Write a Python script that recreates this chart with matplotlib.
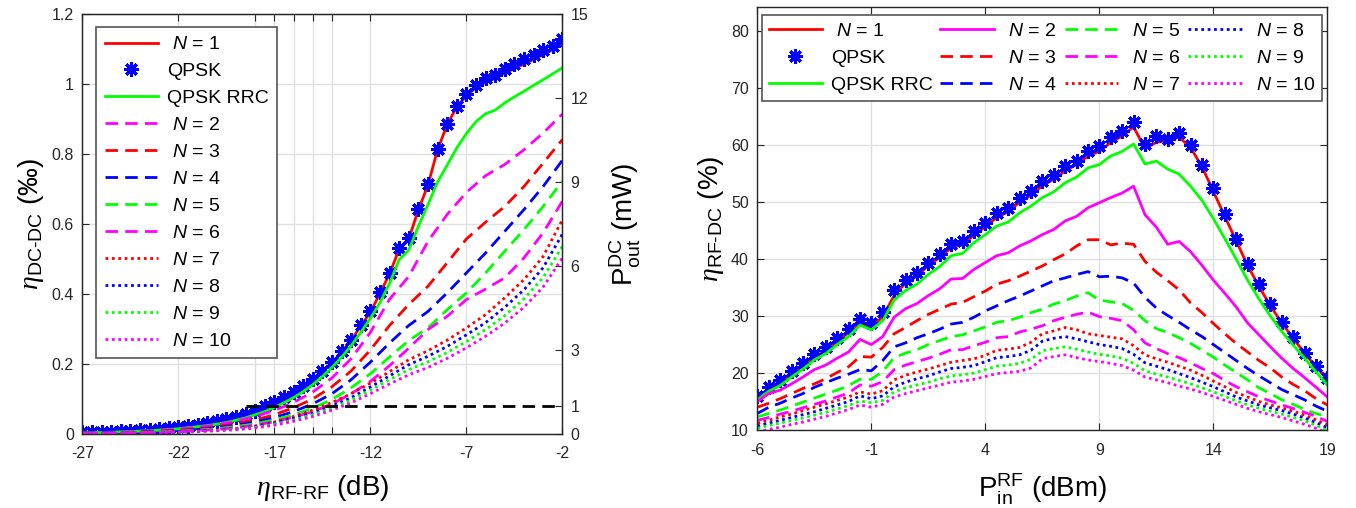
import numpy as np
import matplotlib
matplotlib.use('Agg')
import matplotlib.pyplot as plt

plt.rcParams['font.family'] = ['Liberation Sans', 'DejaVu Sans']
plt.rcParams['mathtext.fontset'] = 'custom'
plt.rcParams['mathtext.rm'] = 'Liberation Sans'
plt.rcParams['mathtext.it'] = 'Liberation Sans:italic'
plt.rcParams['mathtext.bf'] = 'Liberation Serif:italic'   # used only for the greek eta
plt.rcParams['axes.unicode_minus'] = False

# ---------------- left panel: eta_DC-DC vs eta_RF-RF ----------------
x_fine = np.arange(-27, -1.9, 0.5)     # 0.5 dB grid
x_coarse = np.arange(-27, -1.9, 1.0)   # 1 dB grid

qpsk_l = [0.005, 0.006, 0.007, 0.007, 0.008, 0.009, 0.011, 0.012, 0.014, 0.017,
          0.020, 0.023, 0.027, 0.031, 0.036, 0.042, 0.049, 0.058, 0.067, 0.079,
          0.090, 0.105, 0.119, 0.136, 0.157, 0.181, 0.205, 0.236, 0.269, 0.312,
          0.350, 0.405, 0.460, 0.531, 0.560, 0.643, 0.714, 0.815, 0.886, 0.938,
          0.971, 0.997, 1.016, 1.026, 1.043, 1.057, 1.071, 1.084, 1.098, 1.109, 1.129]
n1_l = [0.004, 0.005, 0.005, 0.006, 0.007, 0.008, 0.009, 0.011, 0.012, 0.015,
        0.018, 0.021, 0.025, 0.029, 0.034, 0.040, 0.047, 0.056, 0.065, 0.077,
        0.088, 0.103, 0.117, 0.134, 0.155, 0.179, 0.203, 0.234, 0.267, 0.309,
        0.347, 0.402, 0.457, 0.528, 0.557, 0.640, 0.711, 0.812, 0.883, 0.935,
        0.966, 0.990, 1.005, 1.017, 1.031, 1.044, 1.057, 1.070, 1.084, 1.098, 1.114]
rrc_l = [0.003, 0.004, 0.004, 0.005, 0.006, 0.007, 0.008, 0.009, 0.011, 0.013,
         0.015, 0.018, 0.021, 0.024, 0.028, 0.033, 0.039, 0.046, 0.055, 0.064,
         0.076, 0.089, 0.104, 0.121, 0.141, 0.164, 0.190, 0.219, 0.252, 0.290,
         0.330, 0.375, 0.430, 0.498, 0.525, 0.593, 0.655, 0.720, 0.768, 0.817,
         0.858, 0.892, 0.915, 0.925, 0.946, 0.963, 0.979, 0.996, 1.012, 1.029, 1.046]
n_l = {
    2: [0.003, 0.004, 0.005, 0.007, 0.010, 0.014, 0.019, 0.026, 0.036, 0.050, 0.067, 0.090, 0.120,
        0.160, 0.215, 0.290, 0.385, 0.450, 0.550, 0.627, 0.690, 0.738, 0.770, 0.812, 0.860, 0.914],
    3: [0.002, 0.003, 0.004, 0.006, 0.008, 0.011, 0.015, 0.021, 0.029, 0.040, 0.055, 0.075, 0.100,
        0.135, 0.180, 0.240, 0.310, 0.370, 0.422, 0.489, 0.557, 0.605, 0.650, 0.707, 0.774, 0.841],
    4: [0.002, 0.003, 0.004, 0.005, 0.007, 0.009, 0.013, 0.018, 0.025, 0.034, 0.047, 0.064, 0.086,
        0.115, 0.155, 0.205, 0.260, 0.310, 0.350, 0.403, 0.460, 0.517, 0.579, 0.641, 0.707, 0.782],
    5: [0.002, 0.002, 0.003, 0.004, 0.006, 0.008, 0.011, 0.015, 0.021, 0.029, 0.040, 0.055, 0.074,
        0.099, 0.132, 0.172, 0.220, 0.267, 0.303, 0.355, 0.403, 0.460, 0.522, 0.584, 0.650, 0.722],
    6: [0.001, 0.002, 0.003, 0.004, 0.005, 0.007, 0.010, 0.013, 0.018, 0.025, 0.035, 0.048, 0.064,
        0.086, 0.115, 0.150, 0.195, 0.245, 0.298, 0.336, 0.384, 0.414, 0.446, 0.503, 0.575, 0.665],
    7: [0.001, 0.002, 0.002, 0.003, 0.005, 0.006, 0.009, 0.012, 0.016, 0.023, 0.034, 0.050, 0.068,
        0.090, 0.115, 0.145, 0.178, 0.212, 0.238, 0.268, 0.303, 0.341, 0.389, 0.441, 0.507, 0.612],
    8: [0.001, 0.001, 0.002, 0.003, 0.004, 0.006, 0.008, 0.011, 0.015, 0.021, 0.031, 0.044, 0.060,
        0.080, 0.104, 0.134, 0.166, 0.198, 0.222, 0.250, 0.283, 0.318, 0.362, 0.412, 0.475, 0.571],
    9: [0.001, 0.001, 0.002, 0.003, 0.004, 0.005, 0.007, 0.010, 0.014, 0.019, 0.028, 0.040, 0.055,
        0.074, 0.097, 0.125, 0.155, 0.184, 0.206, 0.233, 0.264, 0.298, 0.338, 0.386, 0.447, 0.536],
    10: [0.001, 0.001, 0.002, 0.002, 0.003, 0.005, 0.007, 0.009, 0.012, 0.017, 0.025, 0.036, 0.050,
         0.068, 0.089, 0.115, 0.143, 0.169, 0.190, 0.216, 0.246, 0.279, 0.317, 0.362, 0.420, 0.503],
}
pout_ref = 1.0          # mW, dashed reference line
ref_x = [-18.5, -2]     # span of the reference line
ETA_MAX, POUT_MAX = 1.2, 15.0   # left and right y ranges of the left panel

# ---------------- right panel: eta_RF-DC vs P_in ----------------
p_in = np.arange(-6, 19.1, 0.5)
qpsk_r = [16.0, 17.6, 18.7, 20.4, 21.8, 23.4, 24.5, 26.2, 27.7, 29.5, 28.8, 30.7, 34.5, 36.4, 37.6,
          39.4, 40.9, 42.7, 43.1, 44.9, 46.3, 48.1, 48.9, 50.8, 51.9, 53.7, 54.7, 56.3, 57.3, 58.9,
          59.8, 61.4, 62.5, 64.1, 60.2, 61.6, 61.0, 62.2, 60.1, 56.6, 52.4, 48.0, 43.6, 39.2, 35.6,
          32.1, 29.0, 26.3, 23.6, 21.3, 19.2]
n1_r = [15.5, 17.1, 18.2, 19.8, 21.2, 22.8, 23.9, 25.6, 27.1, 28.7, 28.0, 29.9, 33.6, 35.8, 37.0,
        38.9, 40.3, 42.0, 42.5, 44.2, 45.7, 47.3, 48.3, 50.0, 51.2, 52.9, 54.0, 55.5, 56.6, 58.1,
        58.9, 60.5, 61.6, 63.2, 59.4, 60.5, 60.8, 61.4, 59.6, 56.2, 51.9, 47.5, 43.2, 38.9, 35.2,
        31.8, 28.8, 26.1, 23.5, 21.1, 19.0]
rrc_r = [15.3, 16.8, 17.8, 19.3, 20.7, 22.3, 23.4, 25.0, 26.4, 28.4, 27.6, 29.2, 32.8, 34.5, 35.6,
         37.3, 38.7, 40.6, 41.0, 42.9, 44.3, 45.8, 46.5, 48.1, 49.3, 50.8, 51.8, 53.4, 54.4, 56.0,
         56.6, 58.1, 58.9, 60.2, 56.7, 57.2, 55.8, 54.9, 52.8, 50.3, 47.1, 43.6, 40.0, 36.3, 33.0,
         30.0, 27.3, 24.9, 22.6, 20.2, 17.9]
n_r = {
    2: [15.0, 16.4, 17.0, 18.1, 19.3, 20.6, 21.4, 22.6, 23.7, 25.9, 25.0, 26.4, 29.8, 31.3, 32.2,
        33.6, 34.8, 36.5, 36.6, 38.2, 39.4, 40.6, 41.1, 42.3, 43.2, 44.3, 45.2, 46.7, 47.5, 49.0,
        49.9, 50.8, 51.6, 52.8, 47.8, 45.6, 42.6, 43.1, 41.3, 38.9, 36.3, 34.0, 31.6, 28.8, 26.7,
        24.6, 22.6, 20.8, 19.2, 17.5, 15.8],
    3: [14.0, 14.7, 15.5, 16.4, 17.3, 18.1, 19.0, 20.1, 21.1, 22.9, 22.8, 24.5, 26.9, 28.0, 29.2,
        30.3, 31.2, 32.1, 32.4, 33.4, 34.4, 35.6, 36.2, 37.0, 37.9, 38.8, 39.9, 40.9, 42.3, 43.4,
        43.4, 42.5, 42.8, 42.6, 39.6, 37.7, 36.2, 34.6, 32.3, 30.6, 28.7, 26.9, 25.2, 23.7, 22.2,
        20.9, 19.3, 18.0, 16.9, 15.5, 14.4],
    4: [12.9, 14.0, 14.7, 15.6, 16.4, 17.5, 18.3, 19.1, 19.8, 20.6, 20.4, 22.2, 24.6, 25.3, 26.2,
        26.9, 27.7, 28.6, 28.9, 29.8, 30.9, 31.8, 32.7, 33.5, 34.4, 35.3, 36.2, 36.7, 37.3, 37.8,
        36.9, 37.0, 36.7, 35.8, 33.3, 31.4, 30.1, 28.9, 27.6, 26.4, 25.0, 23.6, 22.2, 20.8, 19.5,
        18.3, 17.1, 16.2, 15.3, 14.2, 13.3],
    5: [12.3, 12.9, 13.5, 14.2, 14.9, 15.6, 16.3, 17.0, 17.8, 18.9, 18.9, 20.3, 22.7, 23.5, 24.1,
        25.0, 25.7, 26.4, 26.7, 27.4, 28.1, 28.9, 29.2, 29.8, 30.6, 31.2, 32.1, 32.7, 33.5, 34.1,
        32.8, 32.5, 32.2, 31.0, 29.2, 27.8, 27.1, 26.2, 25.2, 24.0, 22.8, 21.4, 20.1, 18.8, 17.4,
        16.4, 15.3, 14.5, 13.6, 12.9, 12.3],
    6: [11.7, 12.2, 12.8, 13.3, 13.9, 14.5, 15.1, 15.8, 16.5, 17.9, 17.7, 18.5, 20.6, 21.4, 22.0,
        22.6, 23.3, 24.1, 24.1, 24.8, 25.4, 26.2, 26.4, 27.2, 27.7, 28.3, 29.2, 29.8, 30.3, 30.7,
        29.9, 29.6, 29.2, 27.6, 25.3, 24.3, 23.4, 22.7, 21.8, 20.8, 19.9, 18.7, 17.6, 16.7, 15.8,
        15.1, 14.4, 13.8, 13.1, 12.4, 11.5],
    7: [11.2, 11.7, 12.3, 12.8, 13.4, 14.0, 14.6, 15.2, 15.8, 16.7, 16.3, 16.9, 18.8, 19.6, 20.2,
        20.7, 21.3, 21.9, 22.2, 22.5, 23.1, 24.0, 24.2, 24.5, 25.4, 26.9, 27.4, 28.0, 27.6, 26.9,
        26.6, 26.3, 26.0, 24.8, 23.2, 22.5, 21.9, 21.2, 20.5, 19.6, 18.6, 17.6, 16.6, 15.8, 15.0,
        14.4, 13.9, 13.3, 12.6, 11.8, 10.9],
    8: [10.7, 11.2, 11.7, 12.2, 12.7, 13.2, 13.8, 14.4, 15.0, 16.0, 15.5, 16.0, 17.6, 18.4, 19.0,
        19.5, 20.2, 20.8, 21.0, 21.3, 22.0, 22.7, 22.9, 23.2, 24.0, 25.6, 26.1, 26.4, 26.0, 25.5,
        25.0, 24.7, 24.3, 23.3, 21.8, 21.2, 20.6, 19.9, 19.2, 18.4, 17.6, 16.7, 15.8, 15.1, 14.4,
        13.9, 13.4, 12.8, 12.1, 11.3, 10.4],
    9: [10.3, 10.8, 11.2, 11.7, 12.1, 12.6, 13.1, 13.7, 14.3, 15.1, 14.8, 15.2, 16.7, 17.4, 17.9,
        18.4, 19.0, 19.5, 19.7, 20.0, 20.6, 21.2, 21.4, 21.7, 22.4, 23.9, 24.3, 24.6, 24.2, 23.7,
        23.3, 23.0, 22.6, 21.7, 20.4, 19.8, 19.3, 18.7, 18.1, 17.4, 16.7, 15.9, 15.1, 14.4, 13.8,
        13.3, 12.8, 12.2, 11.6, 10.8, 9.9],
    10: [9.7, 10.1, 10.5, 11.0, 11.4, 11.9, 12.4, 13.0, 13.6, 14.4, 14.0, 14.5, 15.8, 16.4, 16.9,
         17.4, 17.9, 18.4, 18.6, 18.9, 19.4, 19.9, 20.1, 20.3, 20.9, 22.5, 22.9, 23.2, 22.7, 22.3,
         22.0, 21.7, 21.3, 20.5, 19.3, 18.8, 18.3, 17.7, 17.2, 16.6, 15.9, 15.2, 14.5, 13.8, 13.2,
         12.7, 12.2, 11.6, 11.0, 10.3, 9.5],
}

# colours / line styles for N = 2..10
RED, GREEN, BLUE, MAG = '#ff0000', '#00ff00', '#0000ff', '#ff00ff'
DASH = (0, (4.5, 2.6))
DOT = (0, (1.0, 1.3))
style_l = {2: (MAG, DASH), 3: (RED, DASH), 4: (BLUE, DASH), 5: (GREEN, DASH), 6: (MAG, DASH),
           7: (RED, DOT), 8: (BLUE, DOT), 9: (GREEN, DOT), 10: (MAG, DOT)}
style_r = dict(style_l)
style_r[2] = (MAG, '-')   # N = 2 is solid in the right panel

LW = 2.0
AX_COL = '#262626'
GRID_COL = '#e0e0e0'
STAR = dict(marker=(8, 2, 0), ms=10.5, mew=2.2, color=BLUE, ls='none')
HY = '\u2010'   # hyphen for the subscripts
LAB_FS = 20


def n_label(n):
    return ' $N$ = %d' % n


def eta(sub):
    return '$\\mathbf{\\eta}_{\\mathrm{' + sub + '}}$'


def style_axes(ax):
    for s in ax.spines.values():
        s.set_color(AX_COL)
        s.set_linewidth(1.0)
    ax.tick_params(direction='in', length=5, width=0.8, colors=AX_COL, labelsize=11.5,
                   labelcolor='#262626')
    ax.tick_params(axis='x', pad=9)
    ax.tick_params(axis='y', pad=6)
    ax.grid(True, color=GRID_COL, lw=1.0)
    ax.set_axisbelow(True)


fig = plt.figure(figsize=(13.56, 5.08), dpi=100)

# ===== left =====
ax1 = fig.add_axes([0.0607, 0.1457, 0.354, 0.8268])
style_axes(ax1)
ax1.tick_params(top=True, right=False)
h = []
h += ax1.plot(x_fine, n1_l, color=RED, lw=LW, label=n_label(1))
h += ax1.plot(x_fine, qpsk_l, label='QPSK', **STAR)
h += ax1.plot(x_fine, rrc_l, color=GREEN, lw=LW, label='QPSK RRC')
for n in range(2, 11):
    c, ls = style_l[n]
    h += ax1.plot(x_coarse, n_l[n], color=c, ls=ls, lw=LW, label=n_label(n))
# 1 mW line (right-axis value), drawn on top of the curves
ref_eta = pout_ref * ETA_MAX / POUT_MAX
ax1.plot(ref_x, [ref_eta, ref_eta], color='black', ls=(0, (4.5, 2.6)), lw=LW, zorder=5)
ax1.set_xlim(-27, -2)
ax1.set_ylim(0, ETA_MAX)
xt = [-27, -22, -18, -17, -16, -15, -14, -12, -7, -2]
ax1.set_xticks(xt)
ax1.set_xticklabels(['-27', '-22', '', '-17', '', '', '', '-12', '-7', '-2'])
yt = [0, 0.2, 0.4, 0.6, 0.8, 1.0, 1.2]
ax1.set_yticks(yt)
ax1.set_yticklabels(['0', '0.2', '0.4', '0.6', '0.8', '1', '1.2'])
ax1.set_xlabel(eta('RF' + HY + 'RF') + ' (dB)', fontsize=LAB_FS, labelpad=8)
ax1.set_ylabel(eta('DC' + HY + 'DC') + ' (‰)', fontsize=LAB_FS, labelpad=4)

ax1b = ax1.twinx()
ax1b.set_ylim(0, POUT_MAX)
ax1b.set_yticks([0, 1, 3, 6, 9, 12, 15])
ax1b.set_yticklabels(['0', '1', '3', '6', '9', '12', '15'])
for s in ax1b.spines.values():
    s.set_color(AX_COL)
ax1b.tick_params(direction='in', length=5, width=0.8, colors=AX_COL, labelsize=11.5, pad=6)
ax1b.set_ylabel('$\\mathrm{P}_{\\mathrm{out}}^{\\mathrm{DC}}$ (mW)', fontsize=LAB_FS,
                labelpad=14)

leg1 = ax1.legend(handles=h, loc='upper left', bbox_to_anchor=(0.0285, 0.969), borderaxespad=0,
                  fontsize=14, handlelength=2.75, handletextpad=0.45, labelspacing=0.48,
                  borderpad=0.45, numpoints=1, fancybox=False, framealpha=1,
                  edgecolor='#555555')
leg1.get_frame().set_linewidth(1.2)
leg1.set_zorder(10)
ax1.set_zorder(ax1b.get_zorder() + 1)
ax1.patch.set_visible(False)

# ===== right =====
ax2 = fig.add_axes([0.5585, 0.1535, 0.4204, 0.8333])
style_axes(ax2)
ax2.tick_params(top=True, right=True)
h2 = []
h2 += ax2.plot(p_in, n1_r, color=RED, lw=LW, label=n_label(1))
h2 += ax2.plot(p_in, qpsk_r, label='QPSK', **STAR)
h2 += ax2.plot(p_in, rrc_r, color=GREEN, lw=LW, label='QPSK RRC')
for n in range(2, 11):
    c, ls = style_r[n]
    h2 += ax2.plot(p_in, n_r[n], color=c, ls=ls, lw=LW, label=n_label(n))
ax2.set_xlim(-6, 19)
ax2.set_ylim(10, 84.3)
ax2.set_xticks([-6, -1, 4, 9, 14, 19])
ax2.set_yticks(range(10, 81, 10))
ax2.set_xlabel('$\\mathrm{P}_{\\mathrm{in}}^{\\mathrm{RF}}$ (dBm)', fontsize=LAB_FS, labelpad=10)
ax2.set_ylabel(eta('RF' + HY + 'DC') + ' (%)', fontsize=LAB_FS, labelpad=4)
leg2 = ax2.legend(handles=h2, loc='upper left', bbox_to_anchor=(0.008, 0.98), borderaxespad=0,
                  ncol=4, fontsize=14, handlelength=2.75, handletextpad=0.45, labelspacing=0.5,
                  borderpad=0.35, columnspacing=0.4, numpoints=1, fancybox=False,
                  framealpha=1, edgecolor='#555555')
leg2.get_frame().set_linewidth(1.2)

fig.savefig('out.png', dpi=100)
